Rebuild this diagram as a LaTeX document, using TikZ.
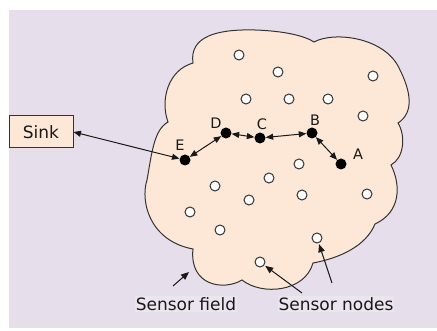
\documentclass[tikz,border=0pt]{standalone}
\usepackage{fontspec}
\setmainfont{DejaVu Sans}
\usetikzlibrary{arrows.meta}
\definecolor{bglav}{HTML}{E7DEEB}
\definecolor{lablav}{HTML}{EBE5EF}
\definecolor{peach}{HTML}{FDE8D8}
\definecolor{outl}{HTML}{333333}
\begin{document}
\begin{tikzpicture}[x=1pt,y=-1pt,
  snode/.style={circle, draw=outl, fill=white, line width=1pt, minimum size=10pt, inner sep=0pt},
  bnode/.style={circle, fill=black, minimum size=11pt, inner sep=0pt},
  letter/.style={font=\fontsize{14.5}{16}\selectfont, text=black!90, inner sep=0pt},
  biglabel/.style={font=\fontsize{17}{20}\selectfont, text=black!90, inner sep=1pt},
  link/.style={{Triangle[length=7.5pt,width=6pt]}-{Triangle[length=7.5pt,width=6pt]}, line width=1pt, draw=black!90},
  pointer/.style={-{Triangle[length=8pt,width=6.5pt]}, line width=1pt, draw=black!90}]
\useasboundingbox (0,0) rectangle (437,331);
\fill[bglav] (9,10) rectangle (437,328);
% sensor field cloud
\draw[fill=peach, draw=outl, line width=1pt]
  (193,63) .. controls (189,36) and (218,29) .. (255,30)
  .. controls (285,31) and (305,36) .. (314,42)
  .. controls (334,31) and (386,37) .. (400,70)
  .. controls (410,90) and (415,112) .. (398,123)
  .. controls (406,136) and (404,158) .. (391,165)
  .. controls (401,185) and (401,212) .. (375,224)
  .. controls (366,246) and (340,258) .. (313,263)
  .. controls (305,292) and (262,296) .. (242,280)
  .. controls (224,291) and (189,286) .. (193,249)
  .. controls (150,241) and (140,202) .. (147,180)
  .. controls (152,152) and (154,130) .. (168,122)
  .. controls (160,100) and (168,70) .. (193,63) -- cycle;
% sink
\node[draw=outl, fill=peach, line width=1pt, minimum width=64pt, minimum height=32pt, inner sep=0pt,
      font=\fontsize{17}{20}\selectfont, text=black!90] (sink) at (41,132) {Sink};
% sensor nodes
\foreach \n/\x/\y in {1/239/55, 2/278/72, 3/373/76, 4/246/99, 5/289/99, 6/328/99, 7/363/116,
  8/299/164, 9/269/178, 10/215/186, 11/302/195, 12/249/200, 13/367/194, 14/190/212,
  15/220/230, 16/317/238, 17/260/262}
  \node[snode] (s\n) at (\x,\y) {};
% path nodes
\node[bnode] (E) at (185,160) {};
\node[bnode] (D) at (226,133) {};
\node[bnode] (C) at (260,138) {};
\node[bnode] (B) at (312,133) {};
\node[bnode] (A) at (341,164) {};
\node[letter] (lE) at (180,145) {E};
\node[letter] (lD) at (216,123) {D};
\node[letter] (lC) at (262,124) {C};
\node[letter] (lB) at (315,120) {B};
\node[letter] (lA) at (358,154) {A};
% links
\draw[link] (sink.east) -- (E);
\draw[link] (E) -- (D);
\draw[link] (D) -- (C);
\draw[link] (C) -- (B);
\draw[link] (B) -- (A);
% bottom labels
\node[biglabel, fill=lablav] (field) at (186,304) {Sensor field};
\node[biglabel, fill=lablav] (nodes) at (336,304) {Sensor nodes};
\coordinate (fieldtail) at (173,286);
\coordinate (fieldhead) at (189,272);
\coordinate (ntail1) at (302,293);
\coordinate (ntail2) at (332,283);
\draw[pointer] (fieldtail) -- (fieldhead);
\draw[pointer, shorten >=1pt] (ntail1) -- (s17);
\draw[pointer, shorten >=1pt] (ntail2) -- (s16);
\end{tikzpicture}
\end{document}
